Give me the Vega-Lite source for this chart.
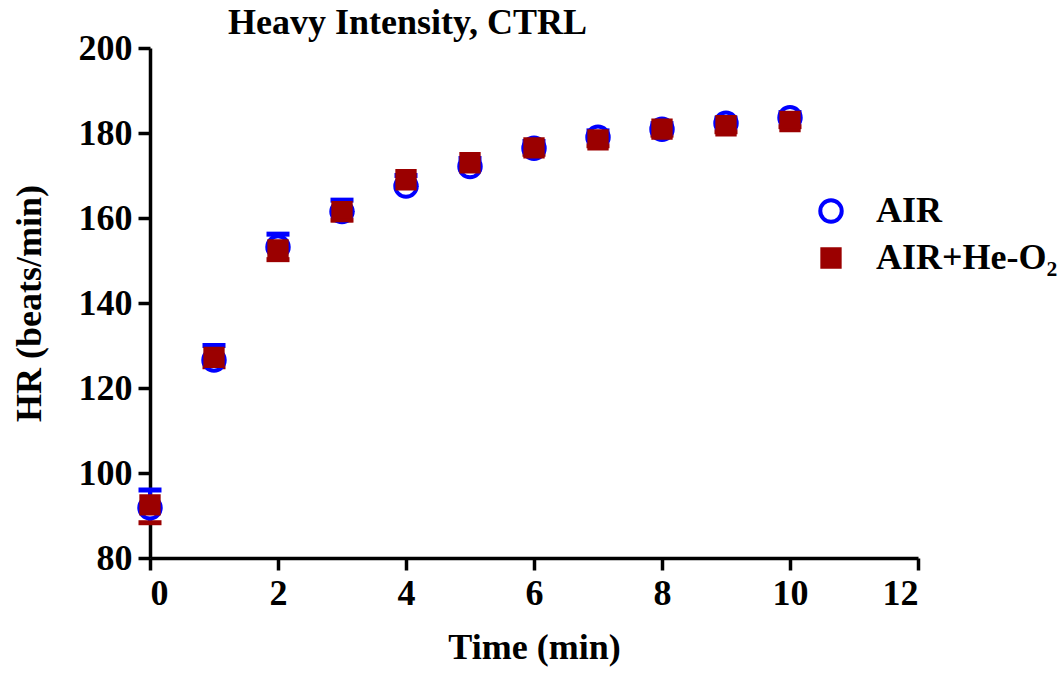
{
  "$schema": "https://vega.github.io/schema/vega-lite/v6.json",
  "width": 768,
  "height": 510,
  "autosize": {"type": "none"},
  "padding": {"left": 150, "top": 48, "right": 144, "bottom": 115},
  "background": "white",
  "title": {
    "text": "Heavy Intensity, CTRL",
    "font": "Liberation Serif",
    "fontSize": 36,
    "fontWeight": "bold",
    "color": "black",
    "anchor": "start",
    "frame": "group",
    "dx": 78,
    "offset": -12
  },
  "data": {
    "values": [
      {"t": 0, "group": "AIR", "hr": 91.8, "err": 96.0},
      {"t": 1, "group": "AIR", "hr": 126.6, "err": 130.0},
      {"t": 2, "group": "AIR", "hr": 153.2, "err": 156.2},
      {"t": 3, "group": "AIR", "hr": 161.5, "err": 164.2},
      {"t": 4, "group": "AIR", "hr": 167.5, "err": 170.0},
      {"t": 5, "group": "AIR", "hr": 172.1, "err": 174.0},
      {"t": 6, "group": "AIR", "hr": 176.4, "err": 178.0},
      {"t": 7, "group": "AIR", "hr": 179.0, "err": 180.5},
      {"t": 8, "group": "AIR", "hr": 180.9, "err": 182.2},
      {"t": 9, "group": "AIR", "hr": 182.3, "err": 183.5},
      {"t": 10, "group": "AIR", "hr": 183.6, "err": 184.8},
      {"t": 0, "group": "AIR+He-O₂", "hr": 92.5, "err": 88.3},
      {"t": 1, "group": "AIR+He-O₂", "hr": 127.2, "err": 125.0},
      {"t": 2, "group": "AIR+He-O₂", "hr": 152.5, "err": 150.2},
      {"t": 3, "group": "AIR+He-O₂", "hr": 161.5, "err": 159.5},
      {"t": 4, "group": "AIR+He-O₂", "hr": 169.0, "err": 167.5},
      {"t": 5, "group": "AIR+He-O₂", "hr": 173.0, "err": 171.5},
      {"t": 6, "group": "AIR+He-O₂", "hr": 176.5, "err": 175.0},
      {"t": 7, "group": "AIR+He-O₂", "hr": 178.4, "err": 177.0},
      {"t": 8, "group": "AIR+He-O₂", "hr": 180.9, "err": 179.5},
      {"t": 9, "group": "AIR+He-O₂", "hr": 181.7, "err": 180.3},
      {"t": 10, "group": "AIR+He-O₂", "hr": 182.7, "err": 181.5}
    ]
  },
  "config": {
    "view": {"stroke": null},
    "axis": {
      "domainColor": "black",
      "domainWidth": 3.5,
      "tickColor": "black",
      "tickWidth": 3.5,
      "tickSize": 12,
      "labelFont": "Liberation Serif",
      "labelFontSize": 36,
      "labelFontWeight": "bold",
      "labelColor": "black",
      "titleFont": "Liberation Serif",
      "titleFontSize": 36,
      "titleFontWeight": "bold",
      "titleColor": "black",
      "grid": false
    },
    "legend": {
      "labelFont": "Liberation Serif",
      "labelFontSize": 36,
      "labelFontWeight": "bold",
      "labelColor": "black",
      "symbolOpacity": 1,
      "symbolStrokeWidth": 4
    }
  },
  "encoding": {
    "x": {
      "field": "t",
      "type": "quantitative",
      "scale": {"domain": [0, 12], "nice": false, "zero": false},
      "axis": {"title": "Time (min)", "values": [0, 2, 4, 6, 8, 10, 12], "labelPadding": 6, "titlePadding": 19}
    },
    "y": {
      "field": "hr",
      "type": "quantitative",
      "scale": {"domain": [80, 200], "nice": false, "zero": false},
      "axis": {"title": "HR (beats/min)", "values": [80, 100, 120, 140, 160, 180, 200], "labelPadding": 6, "titlePadding": 30}
    },
    "color": {
      "field": "group",
      "type": "nominal",
      "scale": {"domain": ["AIR", "AIR+He-O₂"], "range": ["#0000FF", "#9B0000"]},
      "legend": {
        "title": null,
        "orient": "none",
        "legendX": 663,
        "legendY": 145,
        "labelLimit": 400,
        "labelOffset": 27,
        "rowPadding": 10,
        "symbolSize": 300,
        "symbolStrokeWidth": 4,
        "symbolOpacity": 1,
        "encoding": {
          "symbols": {
            "fill": {"value": {"expr": "datum.value === 'AIR' ? 'white' : '#9B0000'"}},
            "opacity": {"value": 1},
            "strokeWidth": {"value": 4}
          }
        }
      }
    }
  },
  "layer": [
    {
      "mark": {"type": "rule", "strokeWidth": 4, "opacity": 1, "clip": false},
      "encoding": {
        "y2": {"field": "err"}
      }
    },
    {
      "mark": {"type": "tick", "orient": "horizontal", "filled": false, "size": 19, "thickness": 1, "strokeWidth": 4, "opacity": 1, "clip": false},
      "encoding": {
        "y": {"field": "err", "type": "quantitative"}
      }
    },
    {
      "mark": {"type": "point", "filled": false, "strokeWidth": 4, "opacity": 1, "clip": false},
      "encoding": {
        "shape": {"field": "group", "type": "nominal", "scale": {"domain": ["AIR", "AIR+He-O₂"], "range": ["circle", "square"]}},
        "fill": {"field": "group", "type": "nominal", "scale": {"domain": ["AIR", "AIR+He-O₂"], "range": ["white", "#9B0000"]}, "legend": null},
        "size": {"field": "group", "type": "nominal", "scale": {"domain": ["AIR", "AIR+He-O₂"], "range": [460, 300]}, "legend": null}
      }
    }
  ]
}
